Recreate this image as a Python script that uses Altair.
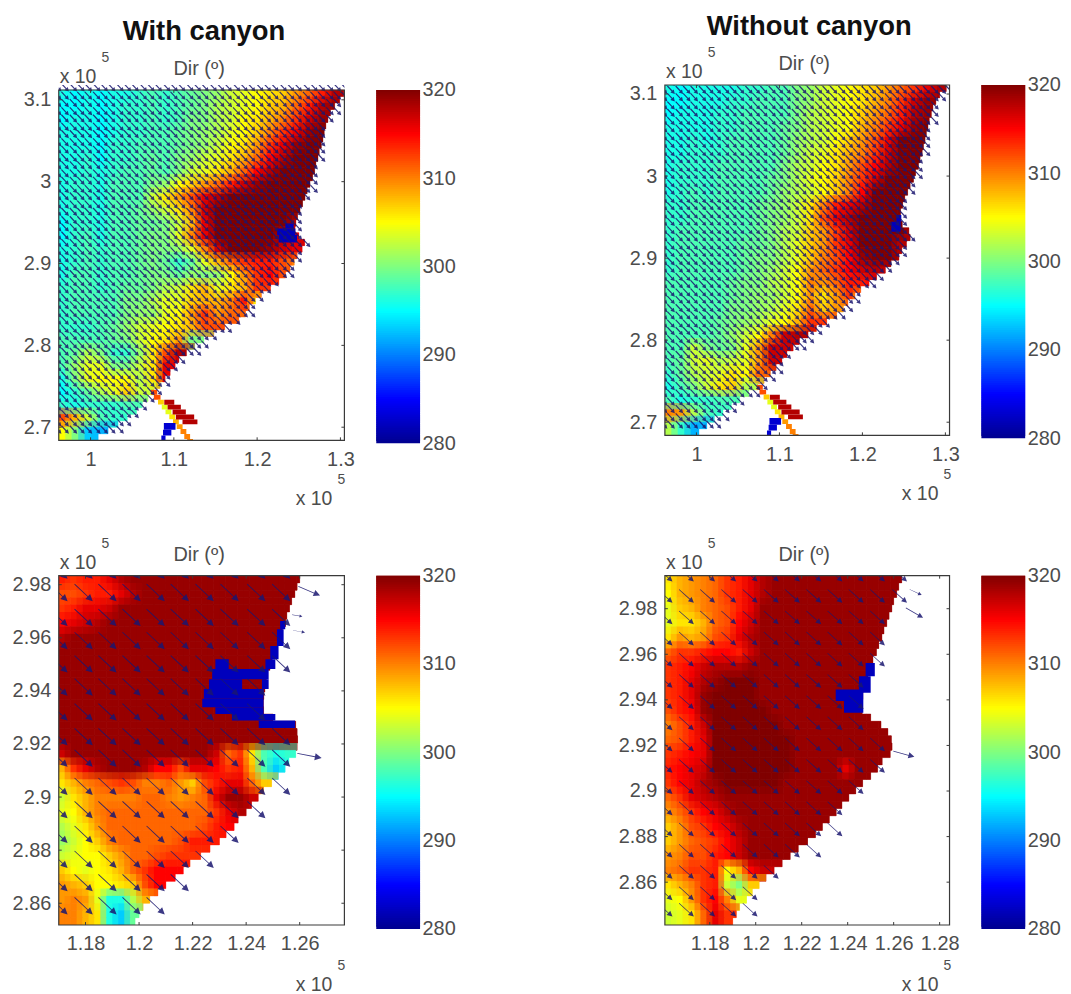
import altair as alt
import numpy as np
import pandas as pd

FONT = "Liberation Sans"
LABEL = "#4d4d4d"
ARROW = "#1a1670"
stops = [280, 285, 295, 305, 315, 320]
jet_colors = ["#00008f", "#0000ff", "#00ffff", "#ffff00", "#ff0000", "#800000"]
jet = alt.Scale(domain=stops, range=jet_colors, clamp=True, interpolate="rgb")

tl_rows = [
[296,295,296,295,296,296,297,298,297,298,299,300,301,303,304,305,306,307,309,311,314,318],
[295,295,296,295,296,297,297,298,297,298,299,300,302,303,304,305,307,308,311,314,318,319],
[295,296,296,295,296,297,297,298,297,298,300,300,302,303,305,306,308,310,313,317,319],
[296,296,296,295,296,297,297,298,298,299,300,301,302,304,305,307,310,313,316,319,320],
[296,296,296,295,297,297,298,298,298,299,300,301,303,305,306,309,313,316,319,320,320],
[296,296,297,295,297,297,298,299,298,300,301,303,304,306,308,311,315,318,320,320],
[296,296,297,296,297,298,298,299,298,300,303,304,306,308,311,315,318,320,320,320],
[296,297,297,296,298,298,298,300,301,305,307,309,311,314,317,319,320,320,320,320],
[296,297,297,296,298,298,298,303,306,309,312,316,318,320,320,320,320,320,320],
[296,297,297,296,298,298,299,301,303,306,310,317,320,320,320,320,320,320,320],
[295,297,297,296,298,298,299,299,300,303,308,316,320,320,320,320,320,320,318],
[295,297,298,296,298,298,299,300,300,304,310,316,320,320,320,320,320,318,316,318],
[296,297,298,297,298,298,299,300,300,301,304,310,317,320,320,320,319,317,316,316],
[296,297,298,297,298,298,299,300,299,297,299,304,308,311,313,314,314,312,310],
[296,298,298,297,298,298,299,300,300,299,301,300,301,305,309,313,315,312],
[297,298,298,297,298,299,299,300,302,303,306,308,304,306,308,313,313],
[297,298,298,298,298,300,300,302,304,304,307,308,308,310,314,306],
[297,298,298,298,298,300,301,301,304,305,309,313,309,311],
[297,297,297,298,299,301,303,304,305,306,308,312],
[298,298,298,298,299,300,303,305,306,309,300],
[298,299,302,300,297,297,301,306,312,318],
[298,301,304,304,300,300,303,306,316],
[296,300,304,305,305,305,302,306,316],
[295,297,299,302,304,307,303],
[297,296,297,297,297,298],
[312,308,303,298,297,297],
[305,300,293,292],
]
tl_coast = [1.3040,1.2990,1.2930,1.2880,1.2850,1.2825,1.2805,1.2790,1.2770,1.2745,1.2730,1.2705,1.2690,1.2665,1.2635,1.2600,
            1.2575,1.2545,1.2515,1.2485,1.2465,1.2455,1.2500,1.2570,1.2540,1.2480,1.2445,1.2395,1.2340,1.2260,1.2160,1.2050,
            1.1980,1.1905,1.1860,1.1780,1.1610,1.1480,1.1360,1.1250,1.1150,1.1060,1.1015,1.0955,1.0895,1.0835,1.0760,1.0690,
            1.0620,1.0550,1.0440,1.0330,1.0210,1.0090]

tr_rows = [
[296,295,296,296,296,296,297,297,298,298,300,301,303,304,305,306,307,309,311,313,316,318],
[295,295,296,296,296,297,297,298,298,298,300,301,303,304,305,306,308,310,313,317,319],
[295,296,296,296,297,297,298,298,298,298,300,302,303,304,305,307,309,311,314,318,319],
[296,296,296,296,297,297,298,298,298,299,300,302,303,304,305,308,310,313,316,319,320],
[296,296,297,296,297,298,298,298,298,299,301,302,303,305,307,309,312,316,320,320,320],
[296,296,297,297,297,298,298,298,298,299,301,303,304,306,308,310,313,317,320,320,320],
[296,297,297,297,298,298,298,298,298,300,302,303,305,306,309,312,315,318,320,320],
[296,297,297,297,298,298,298,298,299,300,302,304,305,307,310,313,317,320,320,320],
[296,297,298,297,298,298,298,298,299,301,302,303,305,307,310,315,320,320,320],
[297,297,298,298,298,298,298,299,300,301,303,306,310,314,316,318,320,320,320],
[297,297,298,298,298,298,298,299,300,301,303,306,312,316,318,320,320,320,320],
[297,298,298,298,298,298,298,299,300,302,303,307,309,313,317,320,320,320,320,317],
[297,298,298,298,298,298,299,299,300,302,304,307,309,313,316,320,320,320,318],
[297,298,298,298,298,298,299,300,300,302,304,307,310,312,315,319,320,320,318],
[297,298,298,298,298,298,299,300,301,303,305,309,311,313,315,317,318,317],
[298,298,298,298,298,299,300,300,302,303,305,310,309,311,314,314,315],
[298,298,298,298,298,299,300,301,301,303,305,309,306,309,313,308],
[298,298,298,298,298,300,300,301,302,304,306,311,307,309],
[298,298,298,298,299,300,301,302,304,305,308,313],
[298,298,298,298,299,301,303,305,310,317,318],
[298,298,303,300,299,300,304,309,317,317],
[298,299,303,304,302,303,304,309,317],
[297,299,302,303,304,306,305,311],
[296,298,300,303,306,307,302],
[298,296,297,297,298,298],
[310,309,302,298,297],
[302,297,292,292],
]
tr_coast = [1.3010,1.2930,1.2885,1.2850,1.2830,1.2805,1.2790,1.2770,1.2755,1.2735,1.2720,1.2695,1.2675,1.2640,1.2615,1.2575,
            1.2545,1.2510,1.2485,1.2460,1.2450,1.2480,1.2560,1.2575,1.2530,1.2475,1.2440,1.2345,1.2275,1.2170,1.2080,1.1980,
            1.1910,1.1825,1.1770,1.1690,1.1570,1.1445,1.1345,1.1240,1.1165,1.1090,1.1030,1.0960,1.0890,1.0815,1.0740,1.0630,
            1.0520,1.0420,1.0320,1.0215,1.0125,1.0030]

bl_rows = [
[314,313,314,314,316,318,319,319,319],
[312,312,313,314,314,316,318,319,319],
[313,314,316,316,317,319,319],
[315,316,317,318,319,319],
[318,319,319],
[319],[319],[319],[319],[319],[319],[319],
[317,319,319,319,319,319,319,319,319,319,319,319,319,317,311,313,306,298,296,297],
[308,313,316,318,319,319,319,318,315,315,312,316,316,315,313,314,308,298,293,296],
[306,308,310,311,312,313,312,310,310,311,309,307,312,314,316,316,311,307],
[303,306,308,310,310,310,310,311,311,310,309,310,311,316,319,319,317],
[304,305,308,310,311,311,311,311,311,311,311,311,311,313,316,318],
[302,304,306,309,311,311,311,311,311,311,311,311,312,314,315],
[301,303,305,307,310,311,311,311,311,311,312,314,314],
[303,304,305,305,307,309,311,311,312,313,313],
[307,305,304,305,306,308,311,313,315,315],
[309,308,307,305,305,306,307,312,315],
[309,310,309,304,296,296,302,308],
[310,310,308,306,296,293,299],
]
bl_coast = [1.2600,1.2590,1.2582,1.2570,1.2562,1.2552,1.2547,1.2535,1.2526,1.2515,1.2507,1.2497,1.2489,1.2480,1.2475,1.2470,
            1.2466,1.2464,1.2465,1.2500,1.2585,1.2590,1.2592,1.2590,1.2585,1.2560,1.2545,1.2520,1.2495,1.2465,1.2445,1.2420,
            1.2400,1.2370,1.2355,1.2325,1.2300,1.2265,1.2230,1.2190,1.2165,1.2135,1.2100,1.2070,1.2040,1.2015,1.2000,1.1985]

br_rows = [
[306,308,309,310,311,313,314,316,318,319],
[305,308,309,310,311,313,314,316,318,319],
[304,307,308,310,311,312,314,316,319],
[304,306,306,308,311,312,315,317,319],
[306,309,308,309,312,313,316,318,319],
[311,313,313,314,315,315,314,317,319],
[313,314,315,317,318,318,318,319],
[313,314,316,318,319,320,320,320,319],
[313,314,316,319,320,320,320,320,319],
[312,314,315,319,320,320,320,320,320,319],
[310,312,314,317,320,320,320,320,320,320,319],
[311,312,314,316,320,320,320,320,320,320,320,319],
[313,314,315,316,320,320,320,320,320,320,320,319],
[314,315,316,317,320,320,320,320,320,320,320,319,319,319,319,316,319],
[313,315,316,318,319,320,320,320,320,320,319],
[311,313,316,317,318,319,319,319,319,319],
[309,311,313,315,316,318,319,319],
[307,309,312,313,315,316,318,319],
[307,309,311,312,313,315,317,319],
[309,310,312,312,314,315,317,319],
[310,311,313,313,314,305,308,315,317],
[306,308,310,313,314,303,300,307],
[304,305,309,313,315,310,304],
[303,304,306,311,316,313],
]
br_coast = [1.2635,1.2622,1.2613,1.2600,1.2592,1.2580,1.2570,1.2558,1.2549,1.2535,1.2525,1.2510,1.2500,1.2488,1.2480,1.2470,
            1.2466,1.2462,1.2463,1.2500,1.2545,1.2575,1.2590,1.2593,1.2585,1.2550,1.2530,1.2500,1.2465,1.2435,1.2405,1.2375,
            1.2350,1.2320,1.2290,1.2260,1.2225,1.2185,1.2150,1.2115,1.2080,1.2045,1.2015,1.1985,1.1960,1.1930,1.1915,1.1900]

# lon0, lon1, lat0, lat1, value
inlet_patches = [
(1.0726,1.0800,2.7397,2.7457,312),(1.0760,1.0840,2.7337,2.7397,312),(1.0810,1.0880,2.7277,2.7337,307),
(1.0855,1.0925,2.7217,2.7277,304),(1.0900,1.0970,2.7157,2.7217,304),(1.0945,1.1015,2.7097,2.7157,306),
(1.0990,1.1060,2.7037,2.7097,308),(1.1035,1.1105,2.6977,2.7037,309),(1.1080,1.1150,2.6917,2.6977,310),
(1.1125,1.1195,2.6857,2.6917,310),(1.1160,1.1230,2.6840,2.6857,310),
(1.0885,1.1005,2.7275,2.7335,318),(1.0925,1.1084,2.7215,2.7275,318),(1.0985,1.1144,2.7155,2.7215,318),
(1.1024,1.1244,2.7095,2.7155,318),(1.1104,1.1283,2.7035,2.7095,318),
(1.0880,1.1020,2.6970,2.7050,283),(1.0870,1.0970,2.6900,2.6970,283),(1.0850,1.0900,2.6840,2.6900,283),
]
tl_patches = inlet_patches + [(1.2339,1.2439,2.9429,2.9490,282),(1.2240,1.2459,2.9348,2.9429,282),(1.2259,1.2479,2.9258,2.9348,282)]
tr_patches = inlet_patches + [(1.2409,1.2469,2.9443,2.9525,282),(1.2349,1.2461,2.9321,2.9443,282)]
bl_patches = [
(1.2527,1.2546,2.9632,2.9663,282),(1.2515,1.2540,2.9569,2.9632,282),(1.2490,1.2521,2.9519,2.9569,282),
(1.2472,1.2509,2.9482,2.9519,282),(1.2285,1.2335,2.9482,2.9519,282),(1.2273,1.2484,2.9444,2.9482,282),
(1.2261,1.2385,2.9407,2.9444,282),(1.2459,1.2484,2.9407,2.9444,282),(1.2242,1.2465,2.9370,2.9407,282),
(1.2236,1.2465,2.9338,2.9370,282),(1.2285,1.2465,2.9313,2.9338,282),(1.2347,1.2509,2.9288,2.9313,282),
(1.2447,1.2583,2.9260,2.9288,282),
]
br_patches = [
(1.2478,1.2518,2.9504,2.9562,282),(1.2449,1.2500,2.9431,2.9504,282),
(1.2348,1.2468,2.9395,2.9446,282),(1.2384,1.2468,2.9344,2.9395,282),
]

top_head_lon = [0.965,0.974,0.984,0.993,1.002,1.012,1.021,1.030,1.040,1.049,1.058,1.068,1.077,1.086,1.096,1.105,1.114,
                1.124,1.133,1.142,1.152,1.161,1.170,1.180,1.189,1.198,1.208,1.217,1.226,1.236,1.245,1.254,1.264,1.273,
                1.282,1.292,1.301,1.310]
top_head_lat = [3.110,3.100,3.091,3.081,3.072,3.062,3.053,3.043,3.034,3.024,3.015,3.005,2.996,2.986,2.977,2.967,2.958,
                2.948,2.939,2.929,2.920,2.910,2.901,2.891,2.882,2.872,2.863,2.853,2.844,2.834,2.825,2.815,2.806,2.796,
                2.787,2.777,2.768,2.758,2.749,2.739,2.730,2.720,2.711,2.701,2.692]
bl_head_lon = [1.1733,1.1827,1.1916,1.2006,1.2096,1.2186,1.2279,1.2372,1.2472,1.2565]
bl_head_lat = [2.9822,2.9738,2.9644,2.9557,2.9469,2.9382,2.9288,2.9195,2.9114,2.9008,2.8920,2.8827,2.8733,2.8645,2.8558]
br_head_lon = [1.1638,1.1731,1.1823,1.1915,1.2008,1.2100,1.2192,1.2285,1.2377,1.2469,1.2562,1.2658]
br_head_lat = [2.9919,2.9826,2.9732,2.9639,2.9546,2.9453,2.9360,2.9267,2.9174,2.9080,2.8987,2.8894,2.8801,2.8708,2.8615,2.8521,2.8449]
# lon, lat, angle, size
bl_extra = [(1.2676,2.9759,23,560),(1.2682,2.9147,11,620),(1.2610,2.9680,10,110),(1.2620,2.9620,10,150)]
br_extra = [(1.2722,2.9860,25,180),(1.2728,2.9760,30,400),(1.2690,2.9150,15,480)]

top_lon_ticks = [1.0, 1.1, 1.2, 1.3]
top_lat_ticks = [2.7, 2.8, 2.9, 3.0, 3.1]
bl_lon_ticks = [1.18, 1.2, 1.22, 1.24, 1.26]
br_lon_ticks = [1.18, 1.2, 1.22, 1.24, 1.26, 1.28]
bot_lat_ticks = [2.86, 2.88, 2.9, 2.92, 2.94, 2.96, 2.98]
cbar_ticks = [280, 290, 300, 310, 320]

TOP_PATH = "M-2,-.11L-.75,-.11L-.75,-.42L0,0L-.75,.42L-.75,.11L-2,.11Z"
BOT_PATH = "M-2,-.035L-.55,-.035L-.55,-.28L0,0L-.55,.28L-.55,.035L-2,.035Z"


def cells(rows, coast, xd, yd, nc, sx, sy):
    """Hand-read blocks, drawn half a block off when sx/sy is 1: the copies are laid over each other."""
    dx = (xd[1] - xd[0]) / nc
    dy = (yd[1] - yd[0]) / len(coast)
    out = []
    for s, c in enumerate(coast):
        y1 = yd[1] - s * dy
        r = rows[min((s + sy) // 2, len(rows) - 1)]
        for i in range(nc + 2):
            x0 = xd[0] + (i - 0.5 * sx) * dx
            if x0 >= c:
                break
            out.append((x0, min(x0 + dx, c), y1 - dy, y1, r[min(i, len(r) - 1)]))
    return pd.DataFrame(out, columns=["x0", "x1", "y0", "y1", "v"])


def arrows(hl, ht, coast, yd, back_x, back_y, angle, size, extra=()):
    dy = (yd[1] - yd[0]) / len(coast)
    out = []
    for lat in ht:
        j = int(np.clip((yd[1] - (lat + back_y)) / dy, 0, len(coast) - 1))
        for lon in hl:
            if lon - back_x < coast[j]:
                out.append((lon, lat, angle, size))
    out += list(extra)
    return pd.DataFrame(out, columns=["lon", "lat", "a", "s"])


def panel(rows, coast, nc, patches, arr, path, xd, yd, yd_full, w, h, off, xt, yt, texts):
    sx, sy = alt.Scale(domain=list(xd), nice=False, zero=False), alt.Scale(domain=list(yd_full), nice=False, zero=False)
    ax = alt.Axis(values=xt, title=None, ticks=False, domain=False, grid=False, labelFont=FONT, labelFontSize=20,
                  labelColor=LABEL, labelPadding=9, format="~g", labelFlush=False, labelOverlap=False)
    ay = alt.Axis(values=yt, title=None, ticks=False, domain=False, grid=False, labelFont=FONT, labelFontSize=20,
                  labelColor=LABEL, labelPadding=8, format="~g", labelOverlap=False)
    X = lambda f: alt.X(f, scale=sx, axis=ax)
    Y = lambda f: alt.Y(f, scale=sy, axis=ay)
    fill = alt.Color("v:Q", scale=jet, legend=None)
    layers = []
    for (a, b, op) in [(0, 0, 1), (1, 0, 1 / 2), (0, 1, 1 / 3), (1, 1, 1 / 4)]:
        layers.append(alt.Chart(cells(rows, coast, xd, yd, nc, a, b)).mark_rect(clip=True, opacity=op, strokeWidth=0.4 if op == 1 else 0).encode(
            x=X("x0:Q"), x2="x1:Q", y=Y("y0:Q"), y2="y1:Q", color=fill,
            **({"stroke": alt.Stroke("v:Q", scale=jet, legend=None)} if op == 1 else {})))
    pt = pd.DataFrame(patches, columns=["x0", "x1", "y0", "y1", "v"])
    layers.append(alt.Chart(pt).mark_rect(clip=True).encode(x=X("x0:Q"), x2="x1:Q", y=Y("y0:Q"), y2="y1:Q", color=fill))
    layers.append(alt.Chart(arr).mark_point(shape=path, filled=True, clip=True, color=ARROW, opacity=0.85).encode(
        x=X("lon:Q"), y=Y("lat:Q"), angle=alt.Angle("a:Q", scale=None), size=alt.Size("s:Q", scale=None)))
    layers.append(alt.Chart(pd.DataFrame({"x0": [xd[0]], "x1": [xd[1]], "y0": [yd[0]], "y1": [yd[1]]})).mark_rect(
        fillOpacity=0, stroke="#3a3a3a", strokeWidth=1.2).encode(x=X("x0:Q"), x2="x1:Q", y=Y("y0:Q"), y2="y1:Q"))
    tx = pd.DataFrame({"t": xt})
    ty = pd.DataFrame({"t": yt})
    layers += [
        alt.Chart(tx).mark_rule(color="#3a3a3a").encode(x=X("t:Q"), y=alt.value(h), y2=alt.value(h - 3)),
        alt.Chart(tx).mark_rule(color="#3a3a3a").encode(x=X("t:Q"), y=alt.value(off), y2=alt.value(off + 3)),
        alt.Chart(ty).mark_rule(color="#3a3a3a").encode(y=Y("t:Q"), x=alt.value(0), x2=alt.value(3)),
        alt.Chart(ty).mark_rule(color="#3a3a3a").encode(y=Y("t:Q"), x=alt.value(w), x2=alt.value(w - 3)),
    ]
    one = pd.DataFrame({"a": [0]})
    for s, px, py, size, bold, align, col in texts:
        layers.append(alt.Chart(one).mark_text(font=FONT, fontSize=size, fontWeight="bold" if bold else "normal",
                                               align=align, baseline="middle", color=col).encode(
            x=alt.value(px), y=alt.value(py + off), text=alt.value(s)))
    return alt.layer(*layers).properties(width=w, height=h, view=alt.ViewConfig(stroke=None))


def colorbar(h, top):
    lv = np.arange(280, 320, 0.25)
    df = pd.DataFrame({"y0": lv, "y1": np.minimum(lv + 0.5, 320), "v": lv + 0.125})
    sy = alt.Scale(domain=[280, top], nice=False, zero=False)
    return alt.Chart(df).mark_rect().encode(
        x=alt.value(0), x2=alt.value(44),
        y=alt.Y("y0:Q", scale=sy, axis=alt.Axis(values=cbar_ticks, orient="right", title=None, ticks=False, domain=False,
                grid=False, labelFont=FONT, labelFontSize=20, labelColor=LABEL, labelPadding=2, labelOverlap=False)),
        y2="y1:Q",
        color=alt.Color("v:Q", scale=jet, legend=None),
    ).properties(width=44, height=h, view=alt.ViewConfig(stroke=None))


def texts(title=None, dirx=141):
    t = [("x 10", 1, -13, 19.5, False, "left", LABEL), ("5", 43, -32, 14, False, "left", LABEL),
         ("Dir (º)", dirx, -21, 20, False, "center", LABEL),
         ("x 10", 238, 411, 19.5, False, "left", LABEL), ("5", 280, 392, 14, False, "left", LABEL)]
    if title:
        t.append((title, dirx + 5, -58, 27.5, True, "center", "#111111"))
    return t


TX = (0.9618, 1.3048)
TY = (2.684, 3.112)
RX = (0.962, 1.305)
RY = (2.684, 3.111)
LX = (1.170, 1.2767)
LY = (2.8518, 2.9834)
BX = (1.1605, 1.2843)
BY = (2.8412, 2.9945)

tl = panel(tl_rows, tl_coast, 22, tl_patches,
           arrows(top_head_lon, top_head_lat, tl_coast, TY, 0.0095, 0.0095, 47, 121),
           TOP_PATH, TX, TY, (TY[0], 3.1181), 287, 357, 5, top_lon_ticks, top_lat_ticks, texts("With canyon"))
tr = panel(tr_rows, tr_coast, 22, tr_patches,
           arrows(top_head_lon, top_head_lat, tr_coast, RY, 0.0095, 0.0095, 47, 121),
           TOP_PATH, RX, RY, RY, 286, 352, 0, top_lon_ticks, top_lat_ticks, texts("Without canyon", 140))
bl = panel(bl_rows, bl_coast, 24, bl_patches,
           arrows(bl_head_lon, bl_head_lat, bl_coast, LY, 0.0068, 0.0069, 43, 625, bl_extra),
           BOT_PATH, LX, LY, LY, 287, 351, 0, bl_lon_ticks, bot_lat_ticks, texts())
br = panel(br_rows, br_coast, 24, br_patches,
           arrows(br_head_lon, br_head_lat, br_coast, BY, 0.0062, 0.0062, 42, 400, br_extra),
           BOT_PATH, BX, BY, BY, 286, 351, 0, br_lon_ticks, bot_lat_ticks, texts(None, 140))

spacer = alt.Chart(pd.DataFrame({"a": [0]})).mark_text(text=" ").encode(x=alt.value(0), y=alt.value(0)).properties(
    width=182, height=10, view=alt.ViewConfig(stroke=None))

chart = alt.concat(tl, colorbar(360, 320.563), spacer, tr, colorbar(355, 320),
                   bl, colorbar(355, 320), spacer, br, colorbar(355, 320),
                   columns=5, spacing={"row": 133, "column": 32}, bounds="flush"
                   ).properties(
    padding={"left": 4, "top": 3, "right": 2, "bottom": 6}, background="white"
).configure_view(stroke=None)

chart.save("out.html", embed_options={"renderer": "svg", "actions": False})
